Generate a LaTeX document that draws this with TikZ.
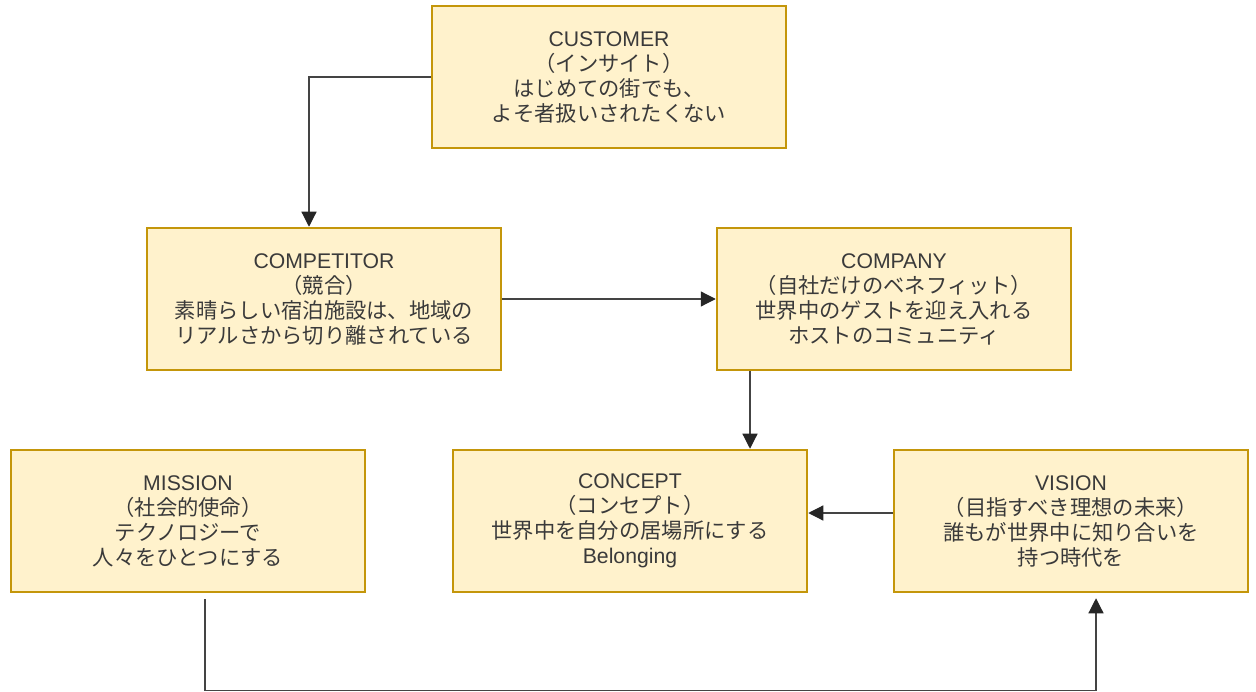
\documentclass[tikz,border=0pt]{standalone}
\usepackage{fontspec}
\setmainfont{Liberation Sans}
\newfontfamily\jp{Noto Sans CJK JP}
\usetikzlibrary{arrows.meta}
\definecolor{boxfill}{HTML}{FFF2CC}
\definecolor{boxline}{RGB}{196,150,10}
\definecolor{txt}{HTML}{3A3A3A}
\definecolor{conn}{HTML}{444444}
\tikzset{
  card/.style={draw=boxline, fill=boxfill, line width=2.5pt, minimum width=354pt, minimum height=142pt, align=center, text=txt, inner sep=0pt, font=\fontsize{21.3}{25}\selectfont},
  conn/.style={draw=conn, line width=1.2pt, -{Triangle[length=15pt,width=15pt,fill=black!85,color=black!85]}},
  plain/.style={draw=conn, line width=1.2pt}
}
\newcommand{\la}[1]{{\fontsize{21.2}{25}\selectfont #1}}
\newcommand{\ja}[1]{{\jp #1}}
\begin{document}
\begin{tikzpicture}[x=1pt,y=-1pt]
\useasboundingbox (0,0) rectangle (1256,692);
\node[card] (customer) at (609,77) {\la{CUSTOMER}\\\ja{（インサイト）}\\\ja{はじめての街でも、}\\\ja{よそ者扱いされたくない}};
\node[card] (competitor) at (324,299) {\la{COMPETITOR}\\\ja{（競合）}\\\ja{素晴らしい宿泊施設は、地域の}\\\ja{リアルさから切り離されている}};
\node[card] (company) at (894,299) {\la{COMPANY}\\\ja{（自社だけのベネフィット）}\\\ja{世界中のゲストを迎え入れる}\\\ja{ホストのコミュニティ}};
\node[card] (mission) at (188,521) {\la{MISSION}\\\ja{（社会的使命）}\\\ja{テクノロジーで}\\\ja{人々をひとつにする}};
\node[card] (concept) at (630,521) {\la{CONCEPT}\\\ja{（コンセプト）}\\\ja{世界中を自分の居場所にする}\\\la{Belonging}};
\node[card] (vision) at (1071,521) {\la{VISION}\\\ja{（目指すべき理想の未来）}\\\ja{誰もが世界中に知り合いを}\\\ja{持つ時代を}};
\draw[conn] (customer.west) -| ([xshift=-15pt]competitor.north);
\draw[conn] (competitor.east) -- (company.west);
\draw[conn] ([xshift=-144pt]company.south) -- ([xshift=-144pt]company.south |- concept.north);
\draw[conn] ([yshift=8pt]vision.west) -- ([yshift=8pt]concept.east);
\coordinate (m0) at ([xshift=17pt,yshift=-6pt]mission.south);
\coordinate (v0) at ([xshift=25pt,yshift=-5pt]vision.south);
\draw[conn] (m0) -- ++(0,91) -| (v0);
\end{tikzpicture}
\end{document}
